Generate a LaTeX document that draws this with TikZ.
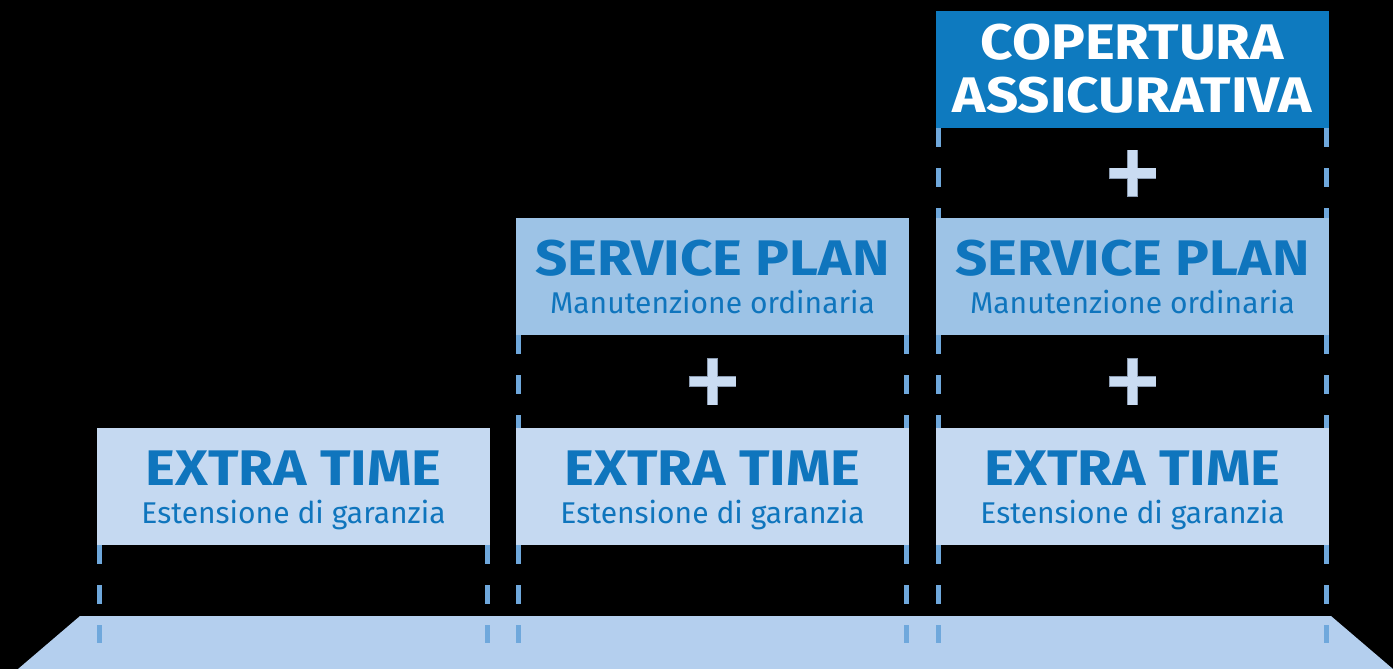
\documentclass[tikz,border=0pt]{standalone}
\usepackage{fontspec}
\setmainfont{Fira Sans}
\newfontfamily\titlefont{Fira Sans}[FakeStretch=1.13]
\usetikzlibrary{calc}

\definecolor{etfill}{HTML}{C5D9F1}
\definecolor{spfill}{HTML}{9DC3E6}
\definecolor{cafill}{HTML}{0E7ABF}
\definecolor{floorfill}{HTML}{B4CFEE}
\definecolor{dashcol}{HTML}{6FA8DC}
\definecolor{textcol}{HTML}{0F75BD}
\definecolor{pluscol}{HTML}{CADCF2}
\definecolor{plusedge}{HTML}{8A9AB0}

\begin{document}
\begin{tikzpicture}[x=1pt, y=-1pt,
    box/.style={minimum width=393pt, minimum height=117pt, inner sep=0pt, outer sep=0pt, anchor=north west},
    title/.style={text=textcol, font=\titlefont\fontsize{50}{60}\selectfont\bfseries, inner sep=0pt, anchor=base},
    subtitle/.style={text=textcol, font=\fontsize{30}{35}\selectfont, inner sep=0pt, anchor=base},
    dashline/.style={dashcol, line width=5pt, dash pattern=on 19pt off 21pt},
    plusout/.style={plusedge, line width=11pt},
    plusin/.style={pluscol, line width=9.4pt}]
        % Background
        \fill[black] (0,0) rectangle (1393,669);
        \useasboundingbox (0,0) rectangle (1393,669);

        % Floor
        \fill[floorfill] (80,616) -- (1331,616) -- (1393,669) -- (18,669) -- cycle;
        \coordinate (floor) at (0,643);

        % Column 1: extra time only
        \node[box, fill=etfill] (et1) at (97,428) {};
        \node[title] (et1a) at ([yshift=60pt]et1.south) {EXTRA TIME};
        \node[subtitle] (et1b) at ([yshift=22pt]et1.south) {Estensione di garanzia};
        \draw[dashline] ([xshift=2.5pt]et1.south west) -- ([xshift=2.5pt]et1.south west |- floor);
        \draw[dashline] ([xshift=-2.5pt]et1.south east) -- ([xshift=-2.5pt]et1.south east |- floor);

        % Column 2: extra time + service plan
        \node[box, fill=etfill] (et2) at (516,428) {};
        \node[title] (et2a) at ([yshift=60pt]et2.south) {EXTRA TIME};
        \node[subtitle] (et2b) at ([yshift=22pt]et2.south) {Estensione di garanzia};
        \node[box, fill=spfill] (sp2) at (516,218) {};
        \node[title] (sp2a) at ([yshift=60pt]sp2.south) {SERVICE PLAN};
        \node[subtitle] (sp2b) at ([yshift=22pt]sp2.south) {Manutenzione ordinaria};
        \draw[dashline] ([xshift=2.5pt]sp2.south west) -- ([xshift=2.5pt]et2.north west);
        \draw[dashline] ([xshift=-2.5pt]sp2.south east) -- ([xshift=-2.5pt]et2.north east);
        \draw[dashline] ([xshift=2.5pt]et2.south west) -- ([xshift=2.5pt]et2.south west |- floor);
        \draw[dashline] ([xshift=-2.5pt]et2.south east) -- ([xshift=-2.5pt]et2.south east |- floor);
        \coordinate (p2) at ($(sp2.south)!0.5!(et2.north)$);
        \draw[plusout] ([xshift=-23.5pt]p2) -- ([xshift=23.5pt]p2) ([yshift=-23.5pt]p2) -- ([yshift=23.5pt]p2);
        \draw[plusin] ([xshift=-23pt]p2) -- ([xshift=23pt]p2) ([yshift=-23pt]p2) -- ([yshift=23pt]p2);

        % Column 3: extra time + service plan + insurance
        \node[box, fill=etfill] (et3) at (936,428) {};
        \node[title] (et3a) at ([yshift=60pt]et3.south) {EXTRA TIME};
        \node[subtitle] (et3b) at ([yshift=22pt]et3.south) {Estensione di garanzia};
        \node[box, fill=spfill] (sp3) at (936,218) {};
        \node[title] (sp3a) at ([yshift=60pt]sp3.south) {SERVICE PLAN};
        \node[subtitle] (sp3b) at ([yshift=22pt]sp3.south) {Manutenzione ordinaria};
        \node[box, fill=cafill] (ca3) at (936,11) {};
        \node[title, text=white] (ca3a) at ([yshift=68pt]ca3.south) {COPERTURA};
        \node[title, text=white] (ca3b) at ([yshift=15pt]ca3.south) {ASSICURATIVA};
        \draw[dashline] ([xshift=2.5pt]ca3.south west) -- ([xshift=2.5pt]sp3.north west);
        \draw[dashline] ([xshift=-2.5pt]ca3.south east) -- ([xshift=-2.5pt]sp3.north east);
        \draw[dashline] ([xshift=2.5pt]sp3.south west) -- ([xshift=2.5pt]et3.north west);
        \draw[dashline] ([xshift=-2.5pt]sp3.south east) -- ([xshift=-2.5pt]et3.north east);
        \draw[dashline] ([xshift=2.5pt]et3.south west) -- ([xshift=2.5pt]et3.south west |- floor);
        \draw[dashline] ([xshift=-2.5pt]et3.south east) -- ([xshift=-2.5pt]et3.south east |- floor);
        \coordinate (p3a) at ($(ca3.south)!0.5!(sp3.north)$);
        \coordinate (p3b) at ($(sp3.south)!0.5!(et3.north)$);
        \draw[plusout] ([xshift=-23.5pt]p3a) -- ([xshift=23.5pt]p3a) ([yshift=-23.5pt]p3a) -- ([yshift=23.5pt]p3a);
        \draw[plusin] ([xshift=-23pt]p3a) -- ([xshift=23pt]p3a) ([yshift=-23pt]p3a) -- ([yshift=23pt]p3a);
        \draw[plusout] ([xshift=-23.5pt]p3b) -- ([xshift=23.5pt]p3b) ([yshift=-23.5pt]p3b) -- ([yshift=23.5pt]p3b);
        \draw[plusin] ([xshift=-23pt]p3b) -- ([xshift=23pt]p3b) ([yshift=-23pt]p3b) -- ([yshift=23pt]p3b);
    \end{tikzpicture}
\end{document}
